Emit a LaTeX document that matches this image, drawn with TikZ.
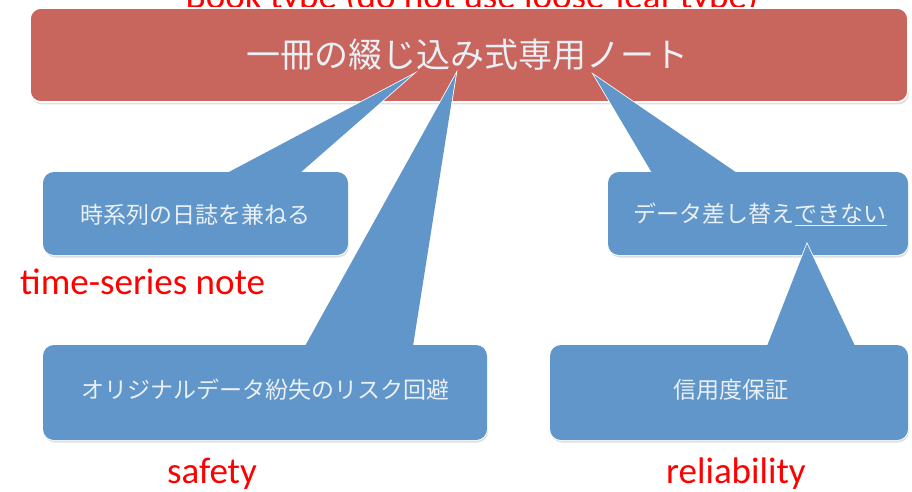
\documentclass[tikz,border=0pt]{standalone}
\usepackage{fontspec}
\setmainfont{Carlito}
\newfontfamily\jp{Noto Sans CJK JP}
\usetikzlibrary{shadows}
\definecolor{boxred}{HTML}{C8655D}
\definecolor{boxblue}{HTML}{6096C9}
\definecolor{jptext}{HTML}{EAF0F6}
\definecolor{labred}{HTML}{FF0000}
\tikzset{
  shapebox/.style={rectangle, rounded corners=11pt, draw=white, line width=1.6pt, outer sep=0pt, inner sep=0pt,
    drop shadow={opacity=0.25, shadow xshift=1pt, shadow yshift=-2.5pt}},
  redbox/.style={shapebox, fill=boxred},
  bluebox/.style={shapebox, fill=boxblue},
  tailline/.style={draw=white, line width=1.6pt, fill=boxblue, line join=miter},
  refill/.style={fill=boxblue, rounded corners=11pt},
  jplabel/.style={font=\jp\fontsize{23}{25}\selectfont, text=jptext, inner sep=0pt},
  titlelabel/.style={font=\jp\fontsize{34}{36}\selectfont, text=jptext, inner sep=0pt},
  redlabel/.style={font=\fontsize{37}{39}\selectfont, text=labred, inner sep=0pt}
}
\begin{document}
\begin{tikzpicture}[x=1pt,y=-1pt]
\useasboundingbox (0,0) rectangle (912,492);
\clip (0,0) rectangle (912,492);
\fill[white] (0,0) rectangle (912,492);

% top (cropped) label
\node[redlabel, anchor=base] (toplab) at (472,9) {Book type (do not use loose-leaf type)};

% red title box
\node[redbox, minimum width=878pt, minimum height=94pt] (title) at (469,55) {};
\node[titlelabel] (titletext) at (467,55) {一冊の綴じ込み式専用ノート};

% apex points
\coordinate (apexA) at (412,75);
\coordinate (apexB) at (456,74);
\coordinate (apexC) at (594,75);
\coordinate (apexD) at (807,244);

% left-top callout
\node[bluebox, minimum width=305pt, minimum height=83pt] (lt) at (195.5,213.5) {};
\coordinate (ltA) at (227,173);
\coordinate (ltB) at (300,173);
\path[tailline] (ltA) -- (apexA) -- (ltB);
\fill[refill] (lt.north west) rectangle (lt.south east);
\fill[boxblue] (ltA) -- (apexA) -- (ltB) -- cycle;
\node[jplabel] (lttext) at (195,215) {時系列の日誌を兼ねる};

% right-top callout
\node[bluebox, minimum width=300pt, minimum height=83pt] (rt) at (758,213.5) {};
\coordinate (rtA) at (652,173);
\coordinate (rtB) at (737,173);
\path[tailline] (rtA) -- (apexC) -- (rtB);
\fill[refill] (rt.north west) rectangle (rt.south east);
\fill[boxblue] (rtA) -- (apexC) -- (rtB) -- cycle;
\node[jplabel] (rttext) at (760,214) {データ差し替え\underline{できない}};

% bottom-left callout
\node[bluebox, minimum width=444pt, minimum height=95pt] (lb) at (265,392.5) {};
\coordinate (lbA) at (305,346);
\coordinate (lbB) at (413,346);
\path[tailline] (lbA) -- (apexB) -- (lbB);
\fill[refill] (lb.north west) rectangle (lb.south east);
\fill[boxblue] (lbA) -- (apexB) -- (lbB) -- cycle;
\node[jplabel] (lbtext) at (265,390) {オリジナルデータ紛失のリスク回避};

% bottom-right callout
\node[bluebox, minimum width=358pt, minimum height=95pt] (rb) at (729,392.5) {};
\coordinate (rbA) at (767,346);
\coordinate (rbB) at (855,346);
\path[tailline] (rbA) -- (apexD) -- (rbB);
\fill[refill] (rb.north west) rectangle (rb.south east);
\fill[boxblue] (rbA) -- (apexD) -- (rbB) -- cycle;
\node[jplabel] (rbtext) at (731,390) {信用度保証};

% red labels
\node[redlabel, anchor=base west] (tsn) at (20,294) {time-series note};
\node[redlabel, anchor=base] (saf) at (212,483) {safety};
\node[redlabel, anchor=base] (rel) at (736,483) {reliability};
\end{tikzpicture}
\end{document}
